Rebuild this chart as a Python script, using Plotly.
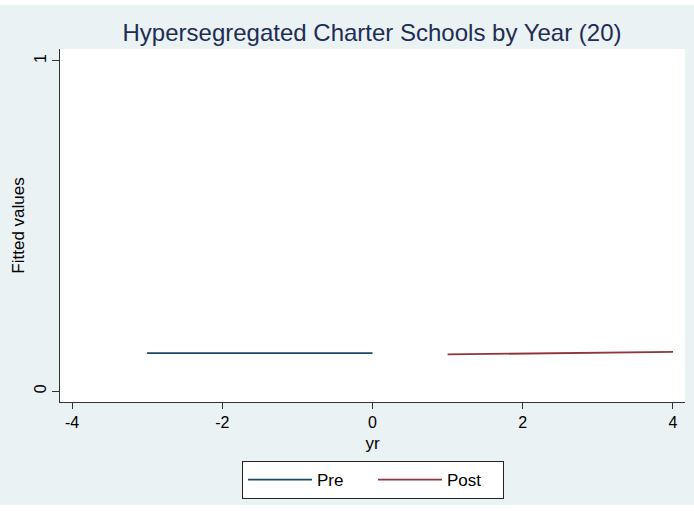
import plotly.graph_objects as go

title = "Hypersegregated Charter Schools by Year (20)"
pre_x = [-3, 0]
pre_y = [0.115, 0.115]
post_x = [1, 4]
post_y = [0.111, 0.119]
x_ticks = [-4, -2, 0, 2, 4]
x_tick_labels = ["-4", "-2", "0", "2", "4"]
y_ticks = [0, 1]
y_tick_labels = ["0", "1"]

W, H = 694, 511
ml, mr, mt, mb = 60, 9, 49, 109
ph = H - mt - mb

def py(p):
    return (H - mb - p) / ph

bg = "#EAF2F3"
font = "Liberation Sans, Arial, sans-serif"

fig = go.Figure()
fig.add_trace(go.Scatter(x=pre_x, y=pre_y, mode="lines", name="Pre",
                         line=dict(color="#1a476f", width=1.8)))
fig.add_trace(go.Scatter(x=post_x, y=post_y, mode="lines", name="Post",
                         line=dict(color="#90353b", width=1.8)))

fig.update_layout(
    width=W, height=H,
    margin=dict(l=ml, r=mr, t=mt, b=mb, pad=0),
    paper_bgcolor=bg, plot_bgcolor="white",
    font=dict(family=font, color="black", size=16),
    title=dict(text=title, x=372 / W, xanchor="center", y=1 - 33 / H, yanchor="middle",
               font=dict(size=24, color="#1e2d53", family=font)),
    xaxis=dict(range=[-4.16, 4.16], tickvals=x_ticks, ticktext=x_tick_labels,
               ticks="outside", ticklen=6,
               tickcolor="#333", showline=True, linecolor="#333", linewidth=1,
               showgrid=False, zeroline=False, tickfont=dict(size=16),
               title=dict(text="yr", font=dict(size=17), standoff=6)),
    yaxis=dict(range=[-0.033, 1.036], tickvals=y_ticks, ticktext=y_tick_labels,
               ticks="outside", ticklen=7,
               tickcolor="#333", showline=True, linecolor="#333", linewidth=1,
               showgrid=False, zeroline=False, tickangle=-90, tickfont=dict(size=16),
               title=dict(text="Fitted values", font=dict(size=17), standoff=2)),
    legend=dict(orientation="h", x=(373 - ml) / (W - ml - mr), xanchor="center",
                y=py(461), yanchor="top", bgcolor="white", bordercolor="#222", borderwidth=1,
                font=dict(size=17), itemwidth=64, entrywidth=51, entrywidthmode="pixels",
                traceorder="normal"),
    shapes=[
        dict(type="rect", xref="paper", yref="paper", x0=-0.2, x1=1.2, y0=py(0) + 0.05, y1=py(5),
             fillcolor="white", line=dict(width=0), layer="below"),
        dict(type="rect", xref="paper", yref="paper", x0=-0.2, x1=1.2, y0=py(505), y1=py(H) - 0.05,
             fillcolor="white", line=dict(width=0), layer="below"),
    ],
)

fig.write_html("out.html")
